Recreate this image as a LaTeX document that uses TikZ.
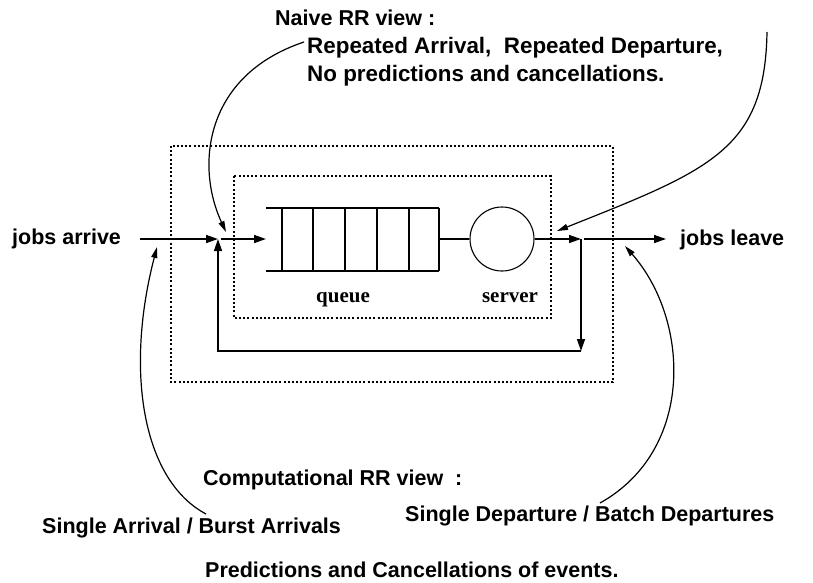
\documentclass[tikz,border=0pt]{standalone}
\usepackage{fontspec}
\setmainfont{Liberation Serif}
\setsansfont{Liberation Sans}
\usetikzlibrary{arrows.meta}

\begin{document}
\begin{tikzpicture}[x=1pt,y=-1pt,
  lbl/.style={font=\sffamily\bfseries\fontsize{21.5}{25}\selectfont, inner sep=0pt, anchor=base west},
  biglbl/.style={lbl, font=\sffamily\bfseries\fontsize{22.4}{26}\selectfont},
  rmlbl/.style={font=\rmfamily\bfseries\fontsize{21}{25}\selectfont, inner sep=0pt, anchor=base},
  flow/.style={line width=1.4pt, -{Triangle[length=12pt,width=8pt]}},
  plain/.style={line width=1.1pt},
  pointer/.style={line width=1.2pt, -{Triangle[length=11pt,width=6pt]}},
  frame/.style={line width=1.6pt, dash pattern=on 2pt off 2.2pt},
]
\useasboundingbox (0,0) rectangle (813,582);

% dotted boundaries
\draw[frame] (171,146) rectangle (613,382);
\draw[frame] (234,176) rectangle (551,318);

% queue
\node[minimum width=173pt, minimum height=63pt, inner sep=0pt] (queue) at (352.5,239.5) {};
\draw[plain] (266,208) -- (439,208);
\draw[plain] (266,271) -- (439,271);
\foreach \x in {282,313,345,377,409,439} \draw[plain] (\x,208) -- (\x,271);
\coordinate (qin) at (266,239);
\coordinate (qout) at (439,239);

% server
\node[circle, draw, plain, minimum size=64pt, inner sep=0pt] (server) at (502,239) {};

\node[rmlbl] at (343,302) {queue};
\node[rmlbl] at (510,302) {server};

% main flow
\coordinate (src) at (140,239);
\coordinate (join) at (218,239);
\coordinate (join2) at (221,239);
\coordinate (split) at (581,239);
\coordinate (split2) at (584,239);
\coordinate (sink) at (666,239);
\coordinate (fbR) at (581,351);
\coordinate (fbL) at (218,351);

\draw[flow] (src) -- (join);
\draw[flow] (join2) -- (qin);
\draw[plain] (qout) -- (server.west);
\draw[flow] (server.east) -- (split);
\draw[flow] (split2) -- (sink);
\draw[flow] (split) -- (fbR);
\draw[flow] (fbR) -- (fbL) -- (join);

% labels
\node[lbl] (arrive) at (12,244) {jobs arrive};
\node[lbl] (leave) at (680,245) {jobs leave};

\node[lbl] (naive) at (275,25) {Naive RR view :};
\node[biglbl] (rep) at (307,53) {Repeated Arrival,\ \ Repeated Departure,};
\node[biglbl] (nopred) at (307,81) {No predictions and cancellations.};

\node[lbl] (comp) at (203,485) {Computational RR view\ \ :};
\node[lbl] (sarr) at (42,533) {Single Arrival / Burst Arrivals};
\node[lbl] (sdep) at (405,521) {Single Departure / Batch Departures};
\node[lbl] (pred) at (205,577) {Predictions and Cancellations of events.};

% pointers
\coordinate (nL0) at (304,42);
\coordinate (nL1) at (226,232);
\coordinate (nR0) at (767,32);
\coordinate (nR1) at (557,231);
\coordinate (cL0) at (206,514);
\coordinate (cL1) at (157,247);
\coordinate (cR0) at (600,503);
\coordinate (cR1) at (625,246);

\draw[pointer] (nL0) .. controls (205,75) and (195,165) .. (nL1);
\draw[pointer] (nR0) .. controls (765,150) and (710,170) .. (nR1);
\draw[pointer] (cL0) .. controls (142,480) and (125,370) .. (cL1);
\draw[pointer] (cR0) .. controls (695,450) and (690,320) .. (cR1);
\end{tikzpicture}
\end{document}
